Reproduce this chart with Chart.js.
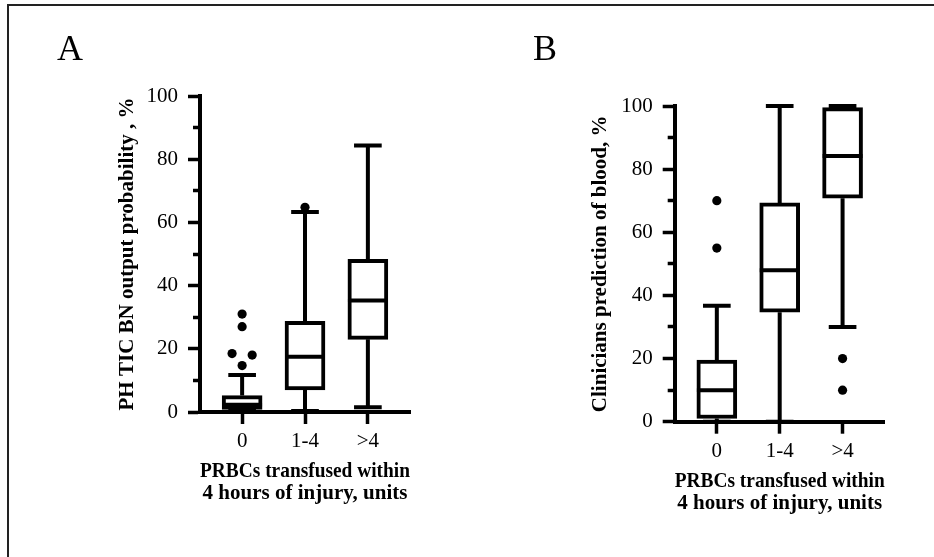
<!DOCTYPE html>
<html>
<head>
<meta charset="utf-8">
<script src="https://cdn.jsdelivr.net/npm/chart.js@4.4.0/dist/chart.umd.min.js"></script>
<style>
  body { margin: 0; background: #fff; }
  #wrap { position: relative; width: 934px; height: 557px; overflow: hidden; background: #fff; }
  #frame { position: absolute; left: 7px; top: 4px; width: 960px; height: 600px;
           border-top: 2.5px solid #222; border-left: 2.5px solid #222; }
  canvas { position: absolute; top: 0; }
  #chartA { left: 0; }
  #chartB { left: 467px; }
</style>
</head>
<body>
<div id="wrap">
  <div id="frame"></div>
  <canvas id="chartA" width="467" height="557"></canvas>
  <canvas id="chartB" width="467" height="557"></canvas>
</div>
<script>
const groups = ['0', '1-4', '>4'];

// A: PH TIC BN output probability (%)
const aMin = [0.6, 0.3, 1.5];
const aQ1 = [0.8, 7, 23];
const aMedian = [2.3, 17.5, 35.3];
const aQ3 = [5.2, 28.7, 48.3];
const aMax = [11.7, 63.3, 84.3];
const aOutGroup = [0, 0, 0, 0, 0, 1];
const aOutValue = [31, 27, 18.5, 18, 14.7, 64.8];

// B: clinicians prediction of blood (%)
const bMin = [0, 0, 30];
const bQ1 = [1, 34.7, 70.8];
const bMedian = [10, 48, 84.2];
const bQ3 = [19.5, 69.3, 99.5];
const bMax = [36.7, 100, 100];
const bOutGroup = [0, 0, 2, 2];
const bOutValue = [70, 55, 20, 10];

// drawing stuff
const serif = "'Liberation Serif', 'Times New Roman', serif";
const boxHalf = 0.317;   // in category units
const capHalf = 0.22;
const aJitter = [0, 0, -0.16, 0.16, 0, 0];
const bJitter = [0, 0, 0, 0];

Chart.defaults.color = '#000';
Chart.defaults.font.family = serif;

function boxData(mins, q1s, meds, q3s, maxs) {
  const boxes = [], whisk = [], med = [];
  groups.forEach((g, i) => {
    boxes.push({x: i, y: [q1s[i], q3s[i]]});
    whisk.push({x: i, y: q3s[i]}, {x: i, y: maxs[i]}, {x: i, y: null});
    whisk.push({x: i, y: q1s[i]}, {x: i, y: mins[i]}, {x: i, y: null});
    whisk.push({x: i - capHalf, y: maxs[i]}, {x: i + capHalf, y: maxs[i]}, {x: i, y: null});
    whisk.push({x: i - capHalf, y: mins[i]}, {x: i + capHalf, y: mins[i]}, {x: i, y: null});
    med.push({x: i - boxHalf, y: meds[i]}, {x: i + boxHalf, y: meds[i]}, {x: i, y: null});
  });
  return {boxes, whisk, med};
}

function makeChart(id, p) {
  const d = boxData(p.min, p.q1, p.med, p.q3, p.max);
  const outs = p.outG.map((g, k) => ({x: g + p.jitter[k], y: p.outV[k]}));
  const lineStyle = {type: 'line', borderColor: '#000', borderWidth: 4, pointRadius: 0,
                     spanGaps: false, tension: 0, borderCapStyle: 'butt', clip: false};
  return new Chart(document.getElementById(id), {
    type: 'bar',
    data: {
      datasets: [
        Object.assign({data: d.med, order: 0}, lineStyle),
        {type: 'bar', data: d.boxes, backgroundColor: '#fff', borderColor: '#000', borderWidth: 4,
         borderSkipped: false, barThickness: 40, order: 1, clip: false},
        Object.assign({data: d.whisk, order: 2}, lineStyle),
        {type: 'scatter', data: outs, backgroundColor: '#000', borderWidth: 0, pointRadius: 4.6,
         order: 0, clip: false}
      ]
    },
    options: {
      responsive: false,
      animation: false,
      devicePixelRatio: 1,
      events: [],
      layout: {padding: p.pad},
      plugins: {
        legend: {display: false},
        tooltip: {enabled: false},
        title: {display: true, text: p.letter, align: 'start',
                font: {size: 36, weight: 'normal', lineHeight: 1.2}, padding: p.letterPad}
      },
      scales: {
        x: {
          type: 'linear', min: -0.67, max: 2.67, offset: false,
          afterBuildTicks: s => { s.ticks = groups.map((g, i) => ({value: i})); },
          afterFit: s => { s.height = p.xHeight; },
          ticks: {autoSkip: false, padding: 5, maxRotation: 0, font: {size: 21},
                  callback: v => groups[v]},
          grid: {offset: false, drawOnChartArea: false, tickLength: 12, tickWidth: 3.5, tickColor: '#000'},
          border: {color: '#000', width: 4},
          title: {display: true, text: ['PRBCs transfused within', '4 hours of injury, units'],
                  font: {size: 21, weight: 'bold', lineHeight: 1.07}, padding: {top: 0, bottom: p.xTitlePad}}
        },
        y: {
          min: 0, max: 100,
          afterFit: s => { s.width = p.yWidth; },
          ticks: {stepSize: 10, autoSkip: false, padding: 10, font: {size: 21},
                  callback: v => (v % 20 === 0 ? v : '')},
          grid: {drawOnChartArea: false, tickLength: 12, tickWidth: 3.5, tickColor: '#000',
                 tickBorderDash: c => (c.tick && c.tick.value % 20 ? [0, 5, 20] : [])},
          border: {color: '#000', width: 4},
          title: {display: true, text: p.yTitle, font: {size: 21, weight: 'bold', lineHeight: 1.2},
                  padding: {top: p.yTitlePad, bottom: 0}}
        }
      }
    }
  });
}

makeChart('chartA', {
  min: aMin, q1: aQ1, med: aMedian, q3: aQ3, max: aMax, outG: aOutGroup, outV: aOutValue, jitter: aJitter,
  letter: 'A', letterPad: {top: 29.4, bottom: 23.4},
  pad: {left: 57, right: 57, top: 0, bottom: 0},
  yWidth: 143, xHeight: 145, xTitlePad: 52, yTitlePad: 58,
  yTitle: 'PH TIC BN output probability , %'
});

makeChart('chartB', {
  min: bMin, q1: bQ1, med: bMedian, q3: bQ3, max: bMax, outG: bOutGroup, outV: bOutValue, jitter: bJitter,
  letter: 'B', letterPad: {top: 29.4, bottom: 33.4},
  pad: {left: 66, right: 49.3, top: 0, bottom: 0},
  yWidth: 141.7, xHeight: 135.3, xTitlePad: 42, yTitlePad: 54.5,
  yTitle: 'Clinicians prediction of blood, %'
});
</script>
</body>
</html>
